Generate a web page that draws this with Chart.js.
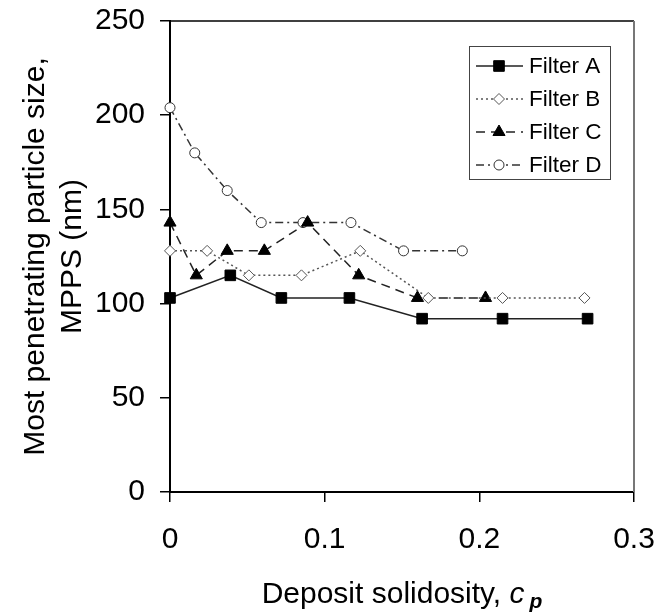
<!DOCTYPE html>
<html>
<head>
<meta charset="utf-8">
<script src="https://cdn.jsdelivr.net/npm/chart.js@4/dist/chart.umd.min.js"></script>
<style>
  html, body { margin: 0; padding: 0; background: #fff; }
  #wrap { width: 658px; height: 615px; position: relative; }
</style>
</head>
<body>
<div id="wrap"><canvas id="c" width="658" height="615"></canvas></div>
<script>
// ---- data ----
const seriesNames = ["Filter A", "Filter B", "Filter C", "Filter D"];
const filterA_x = [0, 0.039, 0.072, 0.116, 0.163, 0.215, 0.270];
const filterA_y = [103, 115, 103, 103, 92, 92, 92];
const filterB_x = [0, 0.024, 0.051, 0.085, 0.123, 0.167, 0.215, 0.268];
const filterB_y = [128, 128, 115, 115, 128, 103, 103, 103];
const filterC_x = [0, 0.017, 0.037, 0.061, 0.089, 0.122, 0.160, 0.204];
const filterC_y = [143, 115, 128, 128, 143, 115, 103, 103];
const filterD_x = [0, 0.016, 0.037, 0.059, 0.086, 0.117, 0.151, 0.189];
const filterD_y = [204, 180, 160, 143, 143, 143, 128, 128];
const xTicks = [0, 0.1, 0.2, 0.3];
const yTicks = [0, 50, 100, 150, 200, 250];
const xTitle = ["Deposit solidosity, ", "c", "p"];
const yTitle = ["Most penetrating particle size,", "MPPS (nm)"];

const FONT = "'Liberation Sans', Arial, sans-serif";
const pts = (xs, ys) => xs.map((x, i) => ({ x: x, y: ys[i] }));

const datasets = [
  { label: seriesNames[0], data: pts(filterA_x, filterA_y), borderColor: '#222', borderWidth: 1.5,
    borderDash: [], pointStyle: 'rect', pointRadius: 7.5, pointBackgroundColor: '#000', pointBorderColor: '#000', pointBorderWidth: 1 },
  { label: seriesNames[1], data: pts(filterB_x, filterB_y), borderColor: '#555', borderWidth: 1.5,
    borderDash: [2, 3], pointStyle: 'rectRot', pointRadius: 5.5, pointBackgroundColor: '#fff', pointBorderColor: '#555', pointBorderWidth: 1 },
  { label: seriesNames[2], data: pts(filterC_x, filterC_y), borderColor: '#222', borderWidth: 1.5,
    borderDash: [9, 6], pointStyle: 'triangle', pointRadius: 7, pointBackgroundColor: '#000', pointBorderColor: '#000', pointBorderWidth: 1 },
  { label: seriesNames[3], data: pts(filterD_x, filterD_y), borderColor: '#333', borderWidth: 1.5,
    borderDash: [8, 4, 2, 4], pointStyle: 'circle', pointRadius: 5, pointBackgroundColor: '#fff', pointBorderColor: '#333', pointBorderWidth: 1 }
].map(d => Object.assign(d, { showLine: true, fill: false, tension: 0, clip: false, pointHoverRadius: d.pointRadius }));

const decor = {
  id: 'decor',
  afterDatasetsDraw(chart) {
    const ctx = chart.ctx, a = chart.chartArea;
    ctx.save();
    // top and right frame
    ctx.strokeStyle = '#000'; ctx.lineWidth = 1.5;
    ctx.beginPath(); ctx.moveTo(a.left, a.top); ctx.lineTo(a.right, a.top); ctx.stroke();
    ctx.strokeStyle = '#777'; ctx.lineWidth = 2;
    ctx.beginPath(); ctx.moveTo(a.right, a.top); ctx.lineTo(a.right, a.bottom); ctx.stroke();

    // legend
    const lx = a.left + 299, ly = a.top + 25, lw = 141, lh = 133;
    ctx.fillStyle = '#fff'; ctx.fillRect(lx, ly, lw, lh);
    ctx.strokeStyle = '#444'; ctx.lineWidth = 1;
    ctx.strokeRect(lx + 0.5, ly + 0.5, lw, lh);
    chart.data.datasets.forEach((ds, i) => {
      const cy = ly + 20 + i * 33;
      ctx.save();
      ctx.strokeStyle = ds.borderColor; ctx.lineWidth = ds.borderWidth;
      ctx.setLineDash(ds.borderDash);
      ctx.beginPath(); ctx.moveTo(lx + 7, cy); ctx.lineTo(lx + 54, cy); ctx.stroke();
      ctx.setLineDash([]);
      ctx.fillStyle = ds.pointBackgroundColor; ctx.strokeStyle = ds.pointBorderColor; ctx.lineWidth = ds.pointBorderWidth;
      Chart.helpers.drawPoint(ctx, { pointStyle: ds.pointStyle, radius: ds.pointRadius, borderWidth: ds.pointBorderWidth, rotation: 0 }, lx + 30, cy);
      ctx.restore();
      ctx.fillStyle = '#000'; ctx.font = '22.5px ' + FONT; ctx.textBaseline = 'middle'; ctx.textAlign = 'left';
      ctx.fillText(ds.label, lx + 60, cy + 1);
    });

    // y title
    ctx.save();
    ctx.translate(0, (a.top + a.bottom) / 2);
    ctx.rotate(-Math.PI / 2);
    ctx.fillStyle = '#000'; ctx.font = '30px ' + FONT; ctx.textAlign = 'center'; ctx.textBaseline = 'middle';
    ctx.fillText(yTitle[0], 0, 36);
    ctx.fillText(yTitle[1], 0, 73);
    ctx.restore();

    // x title
    ctx.fillStyle = '#000'; ctx.textBaseline = 'alphabetic'; ctx.textAlign = 'left';
    ctx.font = '30px ' + FONT;
    const w0 = ctx.measureText(xTitle[0]).width;
    ctx.font = 'italic 30px ' + FONT;
    const w1 = ctx.measureText(xTitle[1]).width;
    ctx.font = 'bold italic 21px ' + FONT;
    const w2 = ctx.measureText(xTitle[2]).width;
    const total = w0 + w1 + 5 + w2;
    let x = (a.left + a.right) / 2 - total / 2;
    const base = 603;
    ctx.font = '30px ' + FONT; ctx.fillText(xTitle[0], x, base); x += w0;
    ctx.font = 'italic 30px ' + FONT; ctx.fillText(xTitle[1], x, base); x += w1 + 5;
    ctx.font = 'bold italic 21px ' + FONT; ctx.fillText(xTitle[2], x, base + 5);
    ctx.restore();
  }
};

new Chart(document.getElementById('c'), {
  type: 'scatter',
  data: { datasets: datasets },
  plugins: [decor],
  options: {
    responsive: false,
    animation: false,
    devicePixelRatio: 1,
    layout: { padding: { left: 0, right: 24, top: 21, bottom: 0 } },
    plugins: { legend: { display: false }, tooltip: { enabled: false } },
    scales: {
      x: {
        type: 'linear', min: 0, max: 0.3,
        afterBuildTicks: s => { s.ticks = xTicks.map(v => ({ value: v })); },
        afterFit: s => { s.height = 123; s.paddingLeft = 0; s.paddingRight = 0; },
        ticks: { color: '#000', font: { family: FONT, size: 30 }, padding: 20,
                 callback: v => String(parseFloat(Number(v).toFixed(1))), maxRotation: 0, autoSkip: false },
        grid: { drawOnChartArea: false, drawTicks: true, tickLength: 10, color: '#000', lineWidth: 1.5 },
        border: { display: true, color: '#000', width: 2 }
      },
      y: {
        type: 'linear', min: 0, max: 250,
        afterBuildTicks: s => { s.ticks = yTicks.map(v => ({ value: v })); },
        afterFit: s => { s.width = 170; s.paddingTop = 0; s.paddingBottom = 0; },
        ticks: { color: '#000', font: { family: FONT, size: 30 }, padding: 15 },
        grid: { drawOnChartArea: false, drawTicks: true, tickLength: 10, color: '#000', lineWidth: 1.5 },
        border: { display: true, color: '#000', width: 2 }
      }
    }
  }
});
</script>
</body>
</html>
